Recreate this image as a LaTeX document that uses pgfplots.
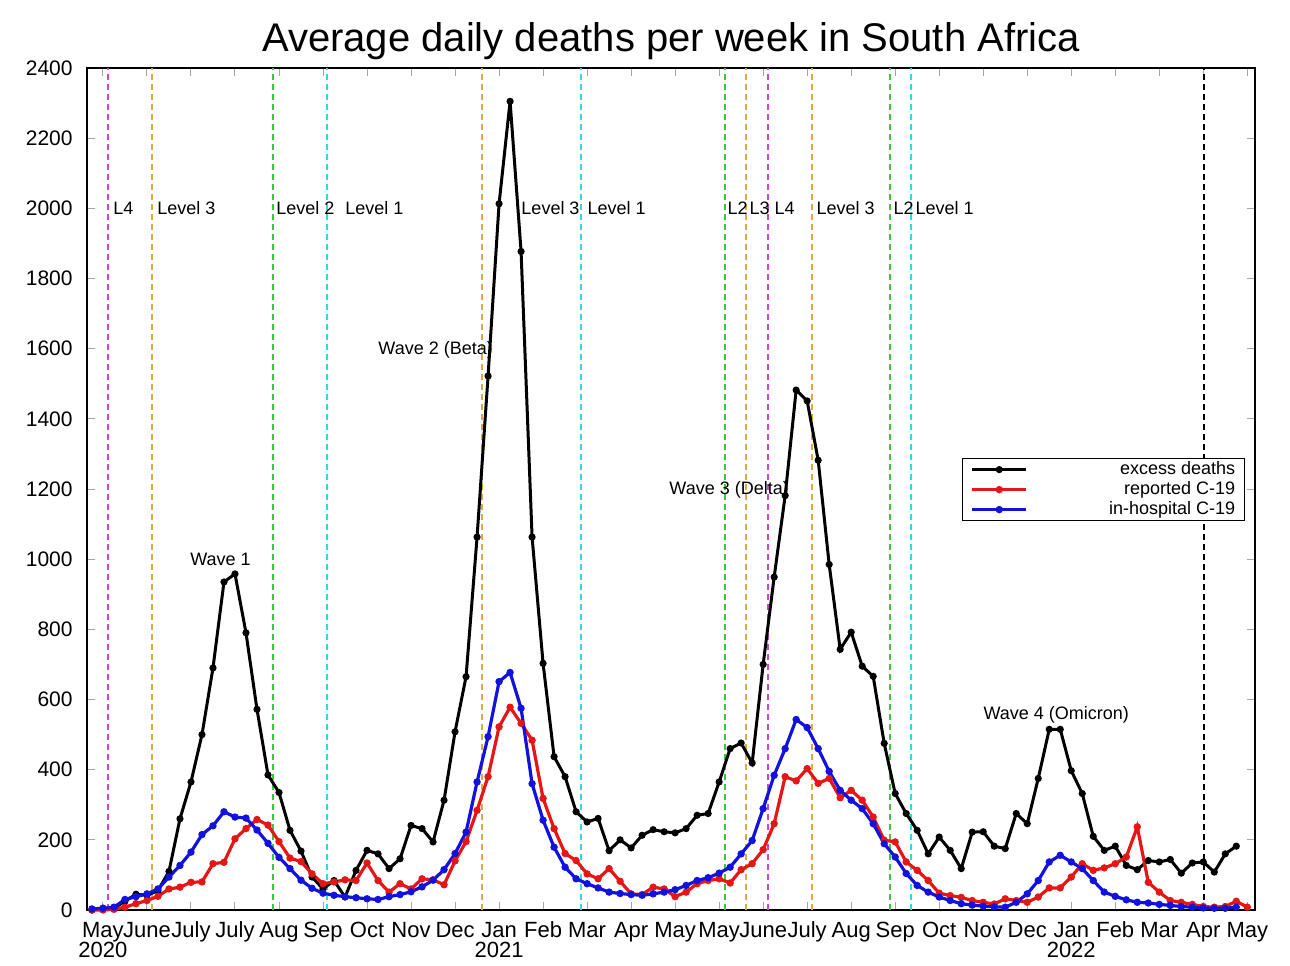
\documentclass[border=0pt]{standalone}
\usepackage{fontspec}
\setmainfont{Liberation Sans}
\usepackage{pgfplots}
\pgfplotsset{compat=1.18}
\usepackage{pgfplotstable}

\definecolor{crep}{RGB}{228,22,22}
\definecolor{chos}{RGB}{18,18,222}
\definecolor{cmag}{RGB}{205,70,205}
\definecolor{cora}{RGB}{222,170,60}
\definecolor{cgre}{RGB}{60,200,60}
\definecolor{ccya}{RGB}{50,215,230}

\pgfplotstableread{
w exc rep hos
-1 0 0 3
0 5 0 5
1 5 2 8
2 25 8 30
3 45 18 38
4 42 27 46
5 55 39 60
6 110 60 94
7 260 65 127
8 365 79 165
9 500 80 215
10 690 132 240
11 935 136 280
12 958 203 265
13 790 232 262
14 572 258 228
15 385 242 190
16 335 195 150
17 227 148 118
18 168 138 85
19 94 103 62
20 60 75 48
21 84 80 42
22 37 86 38
23 113 84 35
24 170 134 32
25 160 84 30
26 118 51 38
27 146 75 44
28 241 60 52
29 232 89 66
30 194 86 85
31 313 72 115
32 508 140 161
33 665 195 222
34 1063 284 365
35 1522 380 494
36 2013 522 651
37 2305 578 677
38 1877 532 575
39 1063 484 360
40 703 318 256
41 437 232 179
42 380 161 122
43 280 141 89
44 251 103 75
45 261 89 63
46 169 118 51
47 200 82 47
48 177 46 44
49 213 44 42
50 229 65 46
51 223 60 51
52 220 38 58
53 232 51 70
54 270 75 84
55 275 84 92
56 365 89 105
57 460 77 122
58 476 115 160
59 419 132 198
60 700 172 289
61 949 246 384
62 1181 380 460
63 1482 368 543
64 1451 403 520
65 1282 361 460
66 985 375 395
67 743 320 341
68 792 341 313
69 695 313 289
70 666 265 246
71 475 199 189
72 332 194 151
73 275 137 104
74 227 113 70
75 160 84 51
76 208 48 37
77 170 41 27
78 118 36 18
79 222 27 14
80 223 22 11
81 182 17 9
82 175 32 8
83 275 27 22
84 246 22 46
85 375 37 84
86 515 63 137
87 515 63 156
88 397 94 137
89 332 132 118
90 210 113 84
91 170 120 51
92 182 132 39
93 127 151 29
94 115 237 22
95 141 79 20
96 137 51 16
97 144 27 13
98 105 22 10
99 134 16 8
100 137 10 6
101 108 8 5
102 160 10 5
103 182 25 8
104 nan 8 nan
}\data

\begin{document}
\begin{tikzpicture}
\path[use as bounding box] (-43.5pt,-27.5pt) rectangle (601.5pt,455pt);
\begin{axis}[
  at={(0,0)}, anchor=south west,
  scale only axis, width=584pt, height=421pt,
  xmin=-1.45, xmax=104.7, ymin=0, ymax=2400,
  clip=false,
  xtick={0,4,...,104},
  xticklabels={May,June,July,July,Aug,Sep,Oct,Nov,Dec,Jan,Feb,Mar,Apr,May,May,June,July,Aug,Sep,Oct,Nov,Dec,Jan,Feb,Mar,Apr,May},
  ytick={0,200,...,2400},
  /pgf/number format/assume math mode=true,
  /pgf/number format/1000 sep={},
  tick align=inside,
  major tick length=4pt,
  tick style={gray!70, line width=0.5pt},
  axis line style={black, line width=0.6pt},
  xticklabel style={font=\fontsize{11}{12}\selectfont, anchor=base, inner sep=0pt, yshift=-13.5pt},
  yticklabel style={font=\fontsize{10.5}{12}\selectfont, anchor=east, inner sep=0pt, xshift=-7pt},
  title={Average daily deaths per week in South Africa},
  title style={font=\fontsize{20}{24}\selectfont, at={(0.5,1)}, anchor=base, inner sep=0pt, yshift=2pt},
  legend style={at={(0.9914,0.5368)}, anchor=north east, draw=black, line width=0.6pt,
    font=\fontsize{9}{10}\selectfont, inner xsep=4pt, inner ysep=0.5pt, row sep=0pt,
    nodes={inner sep=0.6pt, text height=6.6pt, text depth=2.2pt},
    /tikz/every odd column/.append style={column sep=40pt}},
  legend cell align=right,
  legend image code/.code={\draw[mark repeat=2,mark phase=2,#1] plot coordinates {(0pt,0pt) (13.5pt,0pt) (27pt,0pt)};},
]
% level lines
\addplot[cmag, dash pattern=on 3pt off 2pt, line width=0.9pt, forget plot] coordinates {(0.45,0) (0.45,2400)};
\addplot[cora, dash pattern=on 3pt off 2pt, line width=0.9pt, forget plot] coordinates {(4.45,0) (4.45,2400)};
\addplot[cgre, dash pattern=on 3pt off 2pt, line width=0.9pt, forget plot] coordinates {(15.45,0) (15.45,2400)};
\addplot[ccya, dash pattern=on 3pt off 2pt, line width=0.9pt, forget plot] coordinates {(20.36,0) (20.36,2400)};
\addplot[cora, dash pattern=on 3pt off 2pt, line width=0.9pt, forget plot] coordinates {(34.45,0) (34.45,2400)};
\addplot[ccya, dash pattern=on 3pt off 2pt, line width=0.9pt, forget plot] coordinates {(43.45,0) (43.45,2400)};
\addplot[cgre, dash pattern=on 3pt off 2pt, line width=0.9pt, forget plot] coordinates {(56.55,0) (56.55,2400)};
\addplot[cora, dash pattern=on 3pt off 2pt, line width=0.9pt, forget plot] coordinates {(58.45,0) (58.45,2400)};
\addplot[cmag, dash pattern=on 3pt off 2pt, line width=0.9pt, forget plot] coordinates {(60.45,0) (60.45,2400)};
\addplot[cora, dash pattern=on 3pt off 2pt, line width=0.9pt, forget plot] coordinates {(64.45,0) (64.45,2400)};
\addplot[cgre, dash pattern=on 3pt off 2pt, line width=0.9pt, forget plot] coordinates {(71.55,0) (71.55,2400)};
\addplot[ccya, dash pattern=on 3pt off 2pt, line width=0.9pt, forget plot] coordinates {(73.45,0) (73.45,2400)};
\addplot[black, dash pattern=on 3pt off 2pt, line width=0.9pt, forget plot] coordinates {(100.1,0) (100.1,2400)};

% labels
\begin{scope}[every node/.style={font=\fontsize{9}{10}\selectfont, anchor=base west, inner sep=0pt}]
\node at (axis cs:0.91,1983) {L4};
\node at (axis cs:4.91,1983) {Level 3};
\node at (axis cs:15.73,1983) {Level 2};
\node at (axis cs:22.0,1983) {Level 1};
\node at (axis cs:38.0,1983) {Level 3};
\node at (axis cs:44.0,1983) {Level 1};
\node at (axis cs:56.73,1983) {L2};
\node at (axis cs:58.73,1983) {L3};
\node at (axis cs:61.0,1983) {L4};
\node at (axis cs:64.82,1983) {Level 3};
\node at (axis cs:71.82,1983) {L2};
\node at (axis cs:73.82,1983) {Level 1};
\node at (axis cs:7.91,983) {Wave 1};
\node at (axis cs:25.0,1583) {Wave 2 (Beta)};
\node at (axis cs:51.45,1183) {Wave 3 (Delta)};
\node at (axis cs:80.0,543) {Wave 4 (Omicron)};
\end{scope}
\begin{scope}[every node/.style={font=\fontsize{11}{12}\selectfont, anchor=base, inner sep=0pt}]
\node at (axis cs:0,0) [yshift=-23.5pt] {2020};
\node at (axis cs:36,0) [yshift=-23.5pt] {2021};
\node at (axis cs:88,0) [yshift=-23.5pt] {2022};
\end{scope}

\addplot[black, line width=1.5pt, mark=*, mark size=1pt] table[x=w, y=exc] {\data};
\addlegendentry{excess deaths}
\addplot[crep, line width=1.6pt, mark=*, mark size=1pt] table[x=w, y=rep] {\data};
\addlegendentry{reported C-19}
\addplot[chos, line width=1.6pt, mark=*, mark size=1pt] table[x=w, y=hos] {\data};
\addlegendentry{in-hospital C-19}
\end{axis}
\end{tikzpicture}
\end{document}
